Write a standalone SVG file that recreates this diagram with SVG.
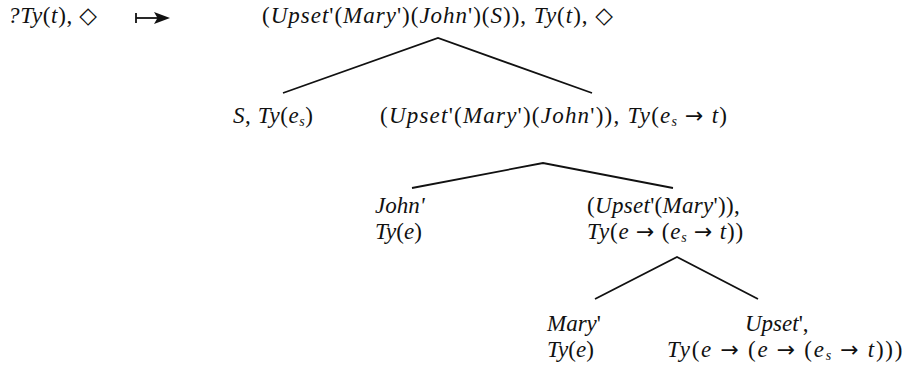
<svg xmlns="http://www.w3.org/2000/svg" width="903" height="365" viewBox="0 0 903 365">
<style>
text{font-family:"Liberation Serif","DejaVu Serif",serif;font-size:23px;fill:#111}
.i{font-style:italic}
.s{font-size:14px;font-style:italic}
.a{font-family:"DejaVu Sans",sans-serif;font-size:22px}
.e{stroke:#111;stroke-width:1.8;fill:none}
</style>
<rect width="903" height="365" fill="#fff"/>
<g id="start">
<text x="8" y="23" textLength="89" lengthAdjust="spacing"><tspan class="i">?Ty</tspan>(<tspan class="i">t</tspan>), ◇</text>
</g>
<g id="maps-to">
<line x1="136" y1="18" x2="160" y2="18" class="e" stroke-width="1.4"/>
<line x1="136" y1="13" x2="136" y2="23" class="e" stroke-width="1.4"/>
<polygon points="170,18 154,12 157.5,18 154,24" fill="#111"/>
</g>
<g id="root">
<text x="262" y="23" textLength="351" lengthAdjust="spacing">(<tspan class="i">Upset</tspan>'(<tspan class="i">Mary</tspan>')(<tspan class="i">John</tspan>')(<tspan class="i">S</tspan>)), <tspan class="i">Ty</tspan>(<tspan class="i">t</tspan>), ◇</text>
</g>
<g id="n-s">
<text x="233" y="123" textLength="80" lengthAdjust="spacing"><tspan class="i">S</tspan>, <tspan class="i">Ty</tspan>(<tspan class="i">e</tspan><tspan class="s" dy="3">s</tspan><tspan dy="-3">)</tspan></text>
</g>
<g id="n-upset-mary-john">
<text x="380" y="123" textLength="347" lengthAdjust="spacing">(<tspan class="i">Upset</tspan>'(<tspan class="i">Mary</tspan>')(<tspan class="i">John</tspan>')), <tspan class="i">Ty</tspan>(<tspan class="i">e</tspan><tspan class="s" dy="3">s</tspan><tspan dy="-3"> </tspan><tspan class="a">→</tspan> <tspan class="i">t</tspan>)</text>
</g>
<g id="n-john">
<text><tspan x="375" y="213" class="i">John'</tspan><tspan x="375" y="239"><tspan class="i">Ty</tspan>(<tspan class="i">e</tspan>)</tspan></text>
</g>
<g id="n-upset-mary">
<text><tspan x="587" y="213" letter-spacing="0.3">(<tspan class="i">Upset</tspan>'(<tspan class="i">Mary</tspan>')),</tspan><tspan x="587" y="239" letter-spacing="0.8"><tspan class="i">Ty</tspan>(<tspan class="i">e</tspan> <tspan class="a">→</tspan> (<tspan class="i">e</tspan><tspan class="s" dy="3">s</tspan><tspan dy="-3"> </tspan><tspan class="a">→</tspan> <tspan class="i">t</tspan>))</tspan></text>
</g>
<g id="n-mary">
<text><tspan x="547" y="331"><tspan class="i">Mary</tspan>'</tspan><tspan x="547" y="357"><tspan class="i">Ty</tspan>(<tspan class="i">e</tspan>)</tspan></text>
</g>
<g id="n-upset">
<text><tspan x="745" y="331"><tspan class="i">Upset</tspan>',</tspan><tspan x="667" y="357" letter-spacing="1.7"><tspan class="i">Ty</tspan>(<tspan class="i">e</tspan> <tspan class="a">→</tspan> (<tspan class="i">e</tspan> <tspan class="a">→</tspan> (<tspan class="i">e</tspan><tspan class="s" dy="3">s</tspan><tspan dy="-3"> </tspan><tspan class="a">→</tspan> <tspan class="i">t</tspan>)))</tspan></text>
</g>
<g id="connectors">
<polyline class="e" points="283,93 438,38 592,93"/>
<polyline class="e" points="412,188 543,163 673,188"/>
<polyline class="e" points="595,299 677,257 758,299"/>
</g>
</svg>
